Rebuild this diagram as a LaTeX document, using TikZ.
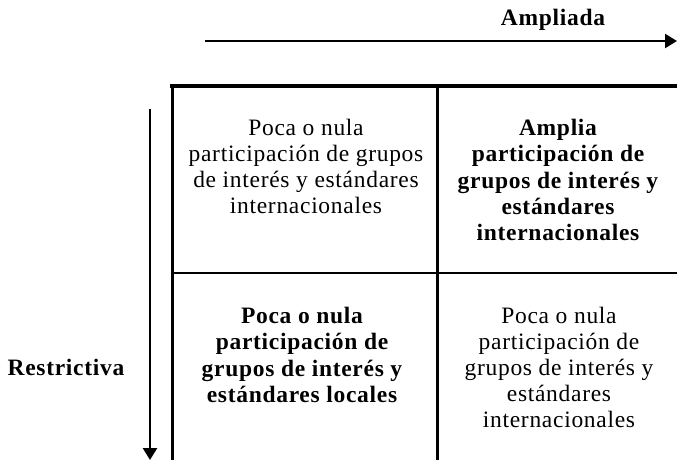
\documentclass[tikz,border=0pt]{standalone}
\usepackage{fontspec}
\setmainfont{Liberation Serif}[LetterSpace=3]
\usetikzlibrary{arrows.meta}

\tikzset{
  celltext/.style={anchor=north, align=center, inner sep=0pt},
  plain/.style={font=\fontsize{23.5}{26}\selectfont},
  heavy/.style={font=\fontsize{23.5}{26.3}\selectfont\bfseries},
  axis/.style={line width=2.5pt, -{Triangle[length=12pt,width=14pt]}},
  rule/.style={line width=3pt},
}

\begin{document}
\begin{tikzpicture}[x=1pt,y=-1pt]
    \useasboundingbox (0,0) rectangle (677,460);
    % ejes
    \coordinate (ampA) at (205,41);
    \coordinate (ampB) at (677,41);
    \node[heavy, anchor=base, inner sep=0pt] (amp) at (553,26) {Ampliada};
    \draw[axis] (ampA) -- (ampB);
    \coordinate (resA) at (150,109);
    \coordinate (resB) at (150,460);
    \node[heavy, anchor=base, inner sep=0pt] (res) at (66,375) {Restrictiva};
    \draw[axis] (resA) -- (resB);
    % tabla
    \coordinate (topL) at (170,86);
    \coordinate (topR) at (677,86);
    \coordinate (leftT) at (172,86);
    \coordinate (leftB) at (172,460);
    \coordinate (midT) at (437,86);
    \coordinate (midB) at (437,460);
    \coordinate (rowL) at (172,273);
    \coordinate (rowR) at (677,273);
    \draw[rule, line width=3.5pt] (topL) -- (topR);
    \draw[rule] (leftT) -- (leftB);
    \draw[rule] (midT) -- (midB);
    \draw[rule, line width=2pt] (rowL) -- (rowR);
    % celdas
    \node[celltext, plain] (c11) at (306,119) {Poca o nula\\participación de grupos\\de interés y estándares\\internacionales};
    \node[celltext, heavy] (c12) at (558,119) {Amplia\\participación de\\grupos de interés y\\estándares\\internacionales};
    \node[celltext, heavy] (c21) at (302,307) {Poca o nula\\participación de\\grupos de interés y\\estándares locales};
    \node[celltext, plain] (c22) at (559,307) {Poca o nula\\participación de\\grupos de interés y\\estándares\\internacionales};
\end{tikzpicture}
\end{document}
